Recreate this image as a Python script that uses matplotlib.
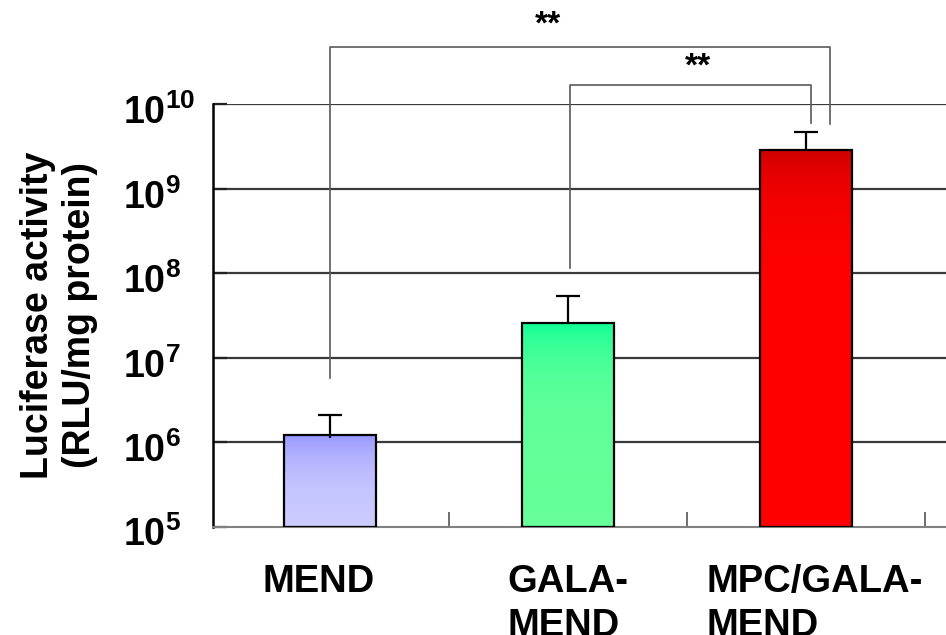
import matplotlib
matplotlib.use("Agg")
import matplotlib.pyplot as plt
import numpy as np
from matplotlib.colors import to_rgb
from matplotlib.ticker import FixedLocator, FuncFormatter, NullFormatter
from matplotlib.transforms import ScaledTranslation

plt.rcParams['font.family'] = ['Liberation Sans', 'DejaVu Sans']
plt.rcParams['mathtext.fontset'] = 'custom'
plt.rcParams['mathtext.rm'] = 'Liberation Sans:bold'
plt.rcParams['mathtext.bf'] = 'Liberation Sans:bold'
plt.rcParams['mathtext.it'] = 'Liberation Sans:bold'

# luciferase activity, RLU/mg protein
groups = ['MEND', 'GALA-\nMEND', 'MPC/GALA-\nMEND']
activity = [1.12e6, 2.58e7, 2.86e9]
upper = [2.09e6, 5.35e7, 4.70e9]
top_colors = ['#9696ff', '#0dff96', '#cc0000']
bottom_colors = ['#ccccff', '#66ff99', '#ff0000']

# significance brackets: (left x, right x, left end, top, right end)
brackets = [
    (0, 2.10, 5.7e6, 4.8e10, 5.8e9),
    (1.01, 2.02, 1.15e8, 1.68e10, 5.95e9),
]
stars = [(0.916, 8.6e10, '**'), (1.546, 2.75e10, '**')]

fig = plt.figure(figsize=(9.46, 6.35), dpi=100)
ax = fig.add_axes([212.7 / 946, 108.5 / 635, (946 - 212.7) / 946, 422.2 / 635])

ax.set_yscale('log')
ax.set_ylim(1e5, 1e10)
ax.set_xlim(-0.493, 2.588)

for d in range(6, 11):
    ax.axhline(10.0 ** d, color='#3a3a3a', lw=1.6, zorder=1)

x = np.arange(len(groups))
width = 0.39
bars = ax.bar(x, activity, width, bottom=1e5, facecolor='none',
              edgecolor='black', linewidth=1.6, zorder=3)

# vertical colour gradient inside each bar
for b, c0, c1 in zip(bars, top_colors, bottom_colors):
    t = np.linspace(0, 1, 256)[:, None]
    grad = (1 - t) * np.array(to_rgb(c0)) + t * np.array(to_rgb(c1))
    grad = grad[:, None, :]
    x0 = b.get_x()
    im = ax.imshow(grad, extent=[x0, x0 + b.get_width(), 1e5, b.get_y() + b.get_height()],
                   origin='upper', aspect='auto', interpolation='bilinear', zorder=2)
    im.set_clip_path(b)

_, caps, _ = ax.errorbar(x, activity,
                         yerr=[np.zeros(3), np.array(upper) - np.array(activity)],
                         fmt='none', ecolor='black', elinewidth=1.6, capsize=8.3,
                         capthick=1.6, zorder=4)
caps[0].set_visible(False)

for xl, xr, yl, yt, yr in brackets:
    ax.plot([xl, xl, xr, xr], [yl, yt, yt, yr], color='#5a5a5a', lw=1.2,
            clip_on=False, zorder=5)
for sx, sy, s in stars:
    ax.text(sx, sy, s, ha='center', va='center', fontsize=24, fontweight='bold')

for side in ['top', 'right']:
    ax.spines[side].set_visible(False)
ax.spines['left'].set_linewidth(1.8)
ax.spines['left'].set_color('black')
ax.spines['bottom'].set_linewidth(1.5)
ax.spines['bottom'].set_color('#808080')

ax.yaxis.set_major_locator(FixedLocator([10.0 ** d for d in range(5, 11)]))
ax.yaxis.set_minor_formatter(NullFormatter())
ax.yaxis.set_major_formatter(FuncFormatter(lambda v, p: r'$10^{%d}$' % round(np.log10(v))))
ax.tick_params(axis='y', which='major', direction='in', length=10, width=1.6,
               color='#222222', labelsize=27, pad=64.6)
ax.tick_params(axis='y', which='minor', left=False)

ax.set_xticks(x)
ax.set_xticklabels(groups, fontsize=27.5, fontweight='bold', linespacing=1.3,
                   multialignment='left', va='top')
ax.tick_params(axis='x', which='major', length=0, pad=27)
ax.set_xticks([0.5, 1.5, 2.5], minor=True)
ax.tick_params(axis='x', which='minor', direction='in', length=11, width=1.2, color='#555555')

# nudge the group names a little sideways
for lab, dx in zip(ax.get_xticklabels(), [-0.11, 0.0, 0.09]):
    lab.set_transform(lab.get_transform() + ScaledTranslation(dx, 0, fig.dpi_scale_trans))

ax.set_ylabel('Luciferase activity\n(RLU/mg protein)', fontsize=27, fontweight='bold',
              linespacing=1.2)
ax.yaxis.set_label_coords((98 - 212.7) / 733.3, 0.5)

# y labels sit left-aligned with their baseline a little under the grid line
shift = ScaledTranslation(0, -0.20, fig.dpi_scale_trans)
for lab in ax.get_yticklabels():
    lab.set_horizontalalignment('left')
    lab.set_verticalalignment('baseline')
    lab.set_transform(lab.get_transform() + shift)

fig.savefig('out.png', dpi=100)
